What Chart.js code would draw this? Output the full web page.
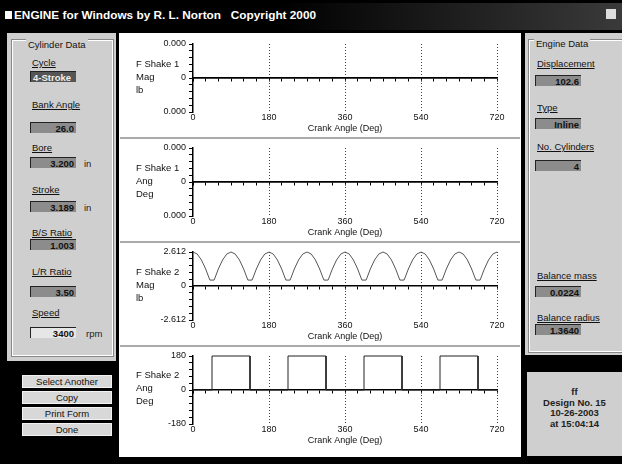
<!DOCTYPE html>
<html>
<head>
<meta charset="utf-8">
<title>ENGINE for Windows</title>
<script src="https://cdn.jsdelivr.net/npm/chart.js@4.4.0/dist/chart.umd.min.js"></script>
<style>
    body {
        margin: 0;
        width: 622px;
        height: 464px;
        background: #000;
        overflow: hidden;
        position: relative;
        font-family: "Liberation Sans", Arial, sans-serif;
    }
    div, span, canvas { position: absolute; }
    #barra { left: 0; top: 3px; width: 622px; height: 27px; background: linear-gradient(to right, #000 45%, #3a3a3a 100%); }
    #titulo {
        left: 14px; top: 8px;
        color: #fff; font-size: 11.8px; font-weight: bold;
        white-space: pre;
    }
    #icone { left: 5px; top: 11px; width: 7px; height: 8px; background: #fff; }
    #fechar { left: 606px; top: 9px; width: 10px; height: 10px; background: #ddd; }
    .painel { background: #cfcfcf; }
    .grupo { border: 1px solid #fff; outline: 1px solid #888; }
    .legenda { font-size: 9.5px; color: #111; background: #cfcfcf; padding: 0 2px; white-space: nowrap; }
    .rot { font-size: 9.5px; color: #111; white-space: nowrap; text-decoration: underline; }
    .caixa {
        height: 11px; width: 46px;
        background: #8c8c8c; border-top: 1px solid #222; border-left: 1px solid #222;
        font-size: 9.5px; font-weight: bold; color: #111;
        text-align: right; line-height: 11px; padding-right: 2px; box-sizing: border-box;
    }
    .unid { font-size: 9.5px; color: #222; }
    .botao {
        left: 22px; width: 90px; height: 13px;
        background: #d8d8d8; border: 1px solid #f2f2f2; box-sizing: border-box;
        font-size: 9.5px; text-align: center; line-height: 11px; color: #111;
    }
    #meio { left: 119px; top: 33px; width: 402px; height: 424px; background: #fff; }
    .bloco { left: 120px; width: 400px; height: 104px; }
    .sep { left: 120px; width: 400px; height: 2px; background: #aaa; }
    .nomeEixo { left: 136px; font-size: 9.5px; line-height: 13px; color: #111; white-space: pre; }
    #rodape { left: 527px; top: 372px; width: 95px; height: 84px; text-align: center; }
    #rodape span { position: static; display: block; font-size: 9.5px; line-height: 10.5px; font-weight: bold; color: #222; }
</style>
</head>
<body>
<div id="barra"></div>
<div id="icone"></div>
<div id="titulo">ENGINE for Windows by R. L. Norton   Copyright 2000</div>
<div id="fechar"></div>

<!-- painel esquerdo -->
<div class="painel" style="left:7px; top:33px; width:109px; height:328px;"></div>
<div class="grupo" style="left:12px; top:40px; width:99px; height:314px;"></div>
<div class="legenda" style="left:26px; top:39px;">Cylinder Data</div>
<div class="rot" style="left:32px; top:57px;">Cycle</div>
<div class="caixa" style="left:30px; top:71px; text-align:left; padding-left:2px; background:#555; color:#eee;">4-Stroke</div>
<div class="rot" style="left:32px; top:99px;">Bank Angle</div>
<div class="caixa" style="left:30px; top:122px;">26.0</div>
<div class="rot" style="left:32px; top:142px;">Bore</div>
<div class="caixa" style="left:30px; top:157px;">3.200</div>
<div class="unid" style="left:84px; top:158px;">in</div>
<div class="rot" style="left:32px; top:184px;">Stroke</div>
<div class="caixa" style="left:30px; top:201px;">3.189</div>
<div class="unid" style="left:84px; top:202px;">in</div>
<div class="rot" style="left:32px; top:227px;">B/S Ratio</div>
<div class="caixa" style="left:30px; top:239px;">1.003</div>
<div class="rot" style="left:32px; top:266px;">L/R Ratio</div>
<div class="caixa" style="left:30px; top:286px;">3.50</div>
<div class="rot" style="left:32px; top:307px;">Speed</div>
<div class="caixa" style="left:30px; top:327px; background:#e6e6e6;">3400</div>
<div class="unid" style="left:86px; top:328px;">rpm</div>

<div class="botao" style="top:375px;">Select Another</div>
<div class="botao" style="top:391px;">Copy</div>
<div class="botao" style="top:407px;">Print Form</div>
<div class="botao" style="top:423px;">Done</div>

<!-- painel direito -->
<div class="painel" style="left:525px; top:33px; width:97px; height:322px;"></div>
<div class="grupo" style="left:529px; top:40px; width:92px; height:310px;"></div>
<div class="legenda" style="left:534px; top:38px;">Engine Data</div>
<div class="rot" style="left:537px; top:58px;">Displacement</div>
<div class="caixa" style="left:535px; top:75px;">102.6</div>
<div class="rot" style="left:537px; top:102px;">Type</div>
<div class="caixa" style="left:535px; top:118px;">Inline</div>
<div class="rot" style="left:537px; top:141px;">No. Cylinders</div>
<div class="caixa" style="left:535px; top:160px;">4</div>
<div class="rot" style="left:537px; top:270px;">Balance mass</div>
<div class="caixa" style="left:535px; top:286px;">0.0224</div>
<div class="rot" style="left:537px; top:312px;">Balance radius</div>
<div class="caixa" style="left:535px; top:324px;">1.3640</div>

<div id="rodape" class="painel">
    <span style="margin-top:15px;">ff</span>
    <span>Design No. 15</span>
    <span>10-26-2003</span>
    <span>at 15:04:14</span>
</div>

<!-- graficos -->
<div id="meio"></div>
<div class="bloco" style="top:34px;"><canvas id="shake1Mag" width="400" height="104"></canvas></div>
<div class="nomeEixo" style="top:57px;">F Shake 1
Mag
lb</div>
<div class="sep" style="top:137px;"></div>
<div class="bloco" style="top:138px;"><canvas id="shake1Ang" width="400" height="104"></canvas></div>
<div class="nomeEixo" style="top:161px;">F Shake 1
Ang
Deg</div>
<div class="sep" style="top:241px;"></div>
<div class="bloco" style="top:242px;"><canvas id="shake2Mag" width="400" height="104"></canvas></div>
<div class="nomeEixo" style="top:265px;">F Shake 2
Mag
lb</div>
<div class="sep" style="top:345px;"></div>
<div class="bloco" style="top:346px;"><canvas id="shake2Ang" width="400" height="104"></canvas></div>
<div class="nomeEixo" style="top:368px;">F Shake 2
Ang
Deg</div>

<script>
const crankAngle = [
    0, 10, 20, 30, 40, 50, 60, 70, 80, 90,
    100, 110, 120, 130, 140, 150, 160, 170, 180, 190,
    200, 210, 220, 230, 240, 250, 260, 270, 280, 290,
    300, 310, 320, 330, 340, 350, 360, 370, 380, 390,
    400, 410, 420, 430, 440, 450, 460, 470, 480, 490,
    500, 510, 520, 530, 540, 550, 560, 570, 580, 590,
    600, 610, 620, 630, 640, 650, 660, 670, 680, 690,
    700, 710, 720,
];

const shake1Mag = [
    0, 0, 0, 0, 0, 0, 0, 0, 0, 0, 0, 0, 0, 0, 0, 0, 0, 0, 0, 0,
    0, 0, 0, 0, 0, 0, 0, 0, 0, 0, 0, 0, 0, 0, 0, 0, 0, 0, 0, 0,
    0, 0, 0, 0, 0, 0, 0, 0, 0, 0, 0, 0, 0, 0, 0, 0, 0, 0, 0, 0,
    0, 0, 0, 0, 0, 0, 0, 0, 0, 0, 0, 0, 0,
];

const shake1Ang = [
    0, 0, 0, 0, 0, 0, 0, 0, 0, 0, 0, 0, 0, 0, 0, 0, 0, 0, 0, 0,
    0, 0, 0, 0, 0, 0, 0, 0, 0, 0, 0, 0, 0, 0, 0, 0, 0, 0, 0, 0,
    0, 0, 0, 0, 0, 0, 0, 0, 0, 0, 0, 0, 0, 0, 0, 0, 0, 0, 0, 0,
    0, 0, 0, 0, 0, 0, 0, 0, 0, 0, 0, 0, 0,
];

const shake2Mag = [
    2.612, 2.455, 2.001, 1.306, 0.454, 0.454, 1.306, 2.001, 2.455,
    2.612, 2.455, 2.001, 1.306, 0.454, 0.454, 1.306, 2.001, 2.455,
    2.612, 2.455, 2.001, 1.306, 0.454, 0.454, 1.306, 2.001, 2.455,
    2.612, 2.455, 2.001, 1.306, 0.454, 0.454, 1.306, 2.001, 2.455,
    2.612, 2.455, 2.001, 1.306, 0.454, 0.454, 1.306, 2.001, 2.455,
    2.612, 2.455, 2.001, 1.306, 0.454, 0.454, 1.306, 2.001, 2.455,
    2.612, 2.455, 2.001, 1.306, 0.454, 0.454, 1.306, 2.001, 2.455,
    2.612, 2.455, 2.001, 1.306, 0.454, 0.454, 1.306, 2.001, 2.455,
    2.612,
];

const stepAngle = [0, 45, 45, 135, 135, 225, 225, 315, 315, 405, 405, 495, 495, 585, 585, 675, 675, 720];
const shake2Ang = [0, 0, 180, 180, 0, 0, 180, 180, 0, 0, 180, 180, 0, 0, 180, 180, 0, 0];

const xTickValues = [0, 180, 360, 540, 720];
const yLabelsShake1Mag = ["0.000", "0", "0.000"];
const yLabelsShake1Ang = ["0.000", "0", "0.000"];
const yLabelsShake2Mag = ["2.612", "0", "-2.612"];
const yLabelsShake2Ang = ["180", "0", "-180"];

Chart.defaults.font.family = "Liberation Sans";
const fonte = { family: "Liberation Sans", size: 9 };

function criarGrafico(id, xs, ys, yMin, yMax, yLabels, corLinha, tracejado) {
    const ctx = document.getElementById(id).getContext("2d");
    const pontos = xs.map((x, i) => ({ x: x, y: ys[i] }));

    new Chart(ctx, {
        type: "line",
        data: {
            datasets: [
                {
                    data: pontos,
                    borderColor: corLinha,
                    borderWidth: 1,
                    borderDash: tracejado,
                    pointRadius: 0,
                    tension: 0,
                    clip: false,
                    xAxisID: "x",
                    yAxisID: "y",
                },
            ],
        },
        options: {
            responsive: false,
            animation: false,
            events: [],
            layout: { padding: { top: 10, right: 23, left: 0, bottom: 0 } },
            plugins: {
                legend: { display: false },
                tooltip: { enabled: false },
            },
            scales: {
                x: {
                    type: "linear",
                    min: 0,
                    max: 720,
                    position: { y: 0 },
                    ticks: { display: false, stepSize: 30, autoSkip: false },
                    grid: { drawOnChartArea: false, tickLength: 3, color: "#000" },
                    border: { color: "#000", width: 1.5 },
                },
                x2: {
                    type: "linear",
                    axis: "x",
                    position: "bottom",
                    min: 0,
                    max: 720,
                    afterBuildTicks: (s) => {
                        s.ticks = xTickValues.map((v) => ({ value: v }));
                    },
                    afterFit: (s) => {
                        s.height = 26;
                    },
                    ticks: { font: fonte, color: "#111", padding: 0, maxRotation: 0, autoSkip: false },
                    grid: {
                        drawTicks: false,
                        color: (c) => (c.tick && c.tick.value === 0 ? "rgba(0,0,0,0)" : "#444"),
                    },
                    border: { display: false, dash: [1, 2] },
                    title: {
                        display: true,
                        text: "Crank Angle (Deg)",
                        font: fonte,
                        color: "#111",
                        padding: { top: 0, bottom: 4 },
                    },
                },
                y: {
                    type: "linear",
                    position: "left",
                    min: yMin,
                    max: yMax,
                    afterBuildTicks: (s) => {
                        s.ticks = [];
                        for (let i = 0; i <= 10; i++) {
                            s.ticks.push({ value: yMin + ((yMax - yMin) * i) / 10 });
                        }
                    },
                    afterFit: (s) => {
                        s.width = 73;
                    },
                    ticks: {
                        font: fonte,
                        color: "#111",
                        padding: 3,
                        autoSkip: false,
                        callback: (v, i) => (i === 10 ? yLabels[0] : i === 5 ? yLabels[1] : i === 0 ? yLabels[2] : ""),
                    },
                    grid: { drawOnChartArea: false, tickLength: 4, color: "#000" },
                    border: { color: "#000", width: 1.5 },
                },
            },
        },
    });
}

criarGrafico("shake1Mag", crankAngle, shake1Mag, -1, 1, yLabelsShake1Mag, "#000", []);
criarGrafico("shake1Ang", crankAngle, shake1Ang, -1, 1, yLabelsShake1Ang, "#000", []);
criarGrafico("shake2Mag", crankAngle, shake2Mag, -2.612, 2.612, yLabelsShake2Mag, "#555", []);
criarGrafico("shake2Ang", stepAngle, shake2Ang, -180, 180, yLabelsShake2Ang, "#222", []);
</script>
</body>
</html>
